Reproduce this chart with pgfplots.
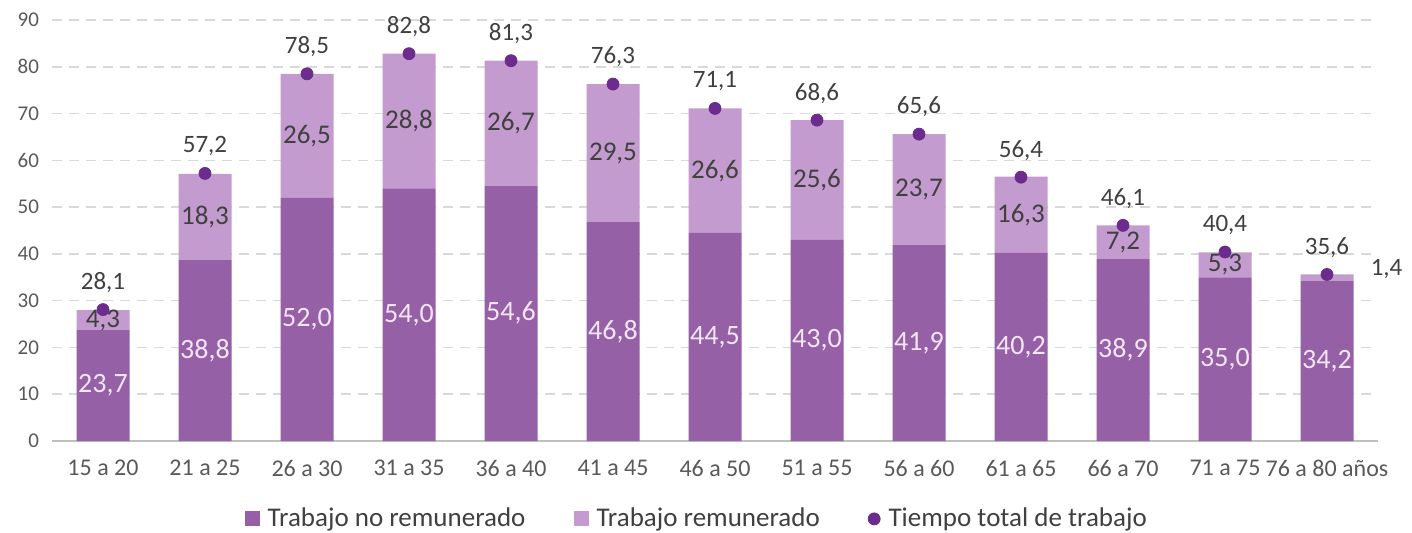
\documentclass[border=0pt]{standalone}
\usepackage{fontspec}
\setmainfont{Carlito}
\usepackage{pgfplots}
\usepackage{pgfplotstable}
\pgfplotsset{compat=1.18}
\definecolor{darkp}{HTML}{9560A5}
\definecolor{lightp}{HTML}{C49BCF}
\definecolor{dotp}{HTML}{6B2C8E}
\definecolor{lbltxt}{HTML}{404040}
\definecolor{ticktxt}{HTML}{595959}
\definecolor{wlbl}{HTML}{F5E6F7}

% edad, no remunerado (a), remunerado (b), total
\pgfplotstableread{
x a b tot
0 23.7 4.3 28.1
1 38.8 18.3 57.2
2 52.0 26.5 78.5
3 54.0 28.8 82.8
4 54.6 26.7 81.3
5 46.8 29.5 76.3
6 44.5 26.6 71.1
7 43.0 25.6 68.6
8 41.9 23.7 65.6
9 40.2 16.3 56.4
10 38.9 7.2 46.1
11 35.0 5.3 40.4
12 34.2 1.4 35.6
}\datatable

\pgfplotsset{
    base/.style={
        width=663pt, height=210.5pt,
        scale only axis,
        xmin=-0.5, xmax=12.5,
        ymin=0, ymax=90,
        clip=false,
        /pgf/number format/.cd, use comma, fixed, fixed zerofill, precision=1,
        assume math mode=true, /pgfplots/.cd,
    },
    lbl/.style={draw=none, mark=none, point meta=explicit, nodes near coords,
        every node near coord/.append style={anchor=center}},
}

\begin{document}
\begin{tikzpicture}
\useasboundingbox (-26pt,-45.5pt) rectangle (680pt,220.5pt);
\begin{axis}[
    base,
    ybar stacked,
    bar width=26.5pt,
    axis x line*=bottom,
    axis y line*=left,
    y axis line style={draw=none},
    x axis line style={draw=black!25, line width=0.8pt},
    major tick length=0pt,
    xtick=data,
    xticklabels={15 a 20, 21 a 25, 26 a 30, 31 a 35, 36 a 40, 41 a 45, 46 a 50, 51 a 55, 56 a 60, 61 a 65, 66 a 70, 71 a 75, 76 a 80 años},
    xticklabel style={font=\fontsize{12}{14}\selectfont, text=ticktxt, yshift=-6pt},
    ytick={0,10,...,90},
    yticklabel style={font=\fontsize{10.5}{12}\selectfont, text=ticktxt, xshift=-3pt,
        /pgf/number format/.cd, fixed, precision=0, fixed zerofill=false},
    ymajorgrids=true,
    grid style={draw=black!15, dash pattern=on 5pt off 3.5pt, line width=0.8pt},
    legend columns=3,
    legend style={at={(0.487,-0.185)}, anchor=center, draw=none,
        font=\fontsize{13.5}{15}\selectfont, text=lbltxt,
        /tikz/every even column/.append style={column sep=22pt},
        /tikz/every odd column/.append style={column sep=2pt}},
    legend image code/.code={\fill[#1] (0pt,-3.75pt) rectangle (7.5pt,3.75pt);},
]
\addplot[fill=darkp, draw=none] table[x=x, y=a] {\datatable};
\addlegendentry{Trabajo no remunerado}
\addplot[fill=lightp, draw=none] table[x=x, y=b] {\datatable};
\addlegendentry{Trabajo remunerado}
\addlegendimage{legend image code/.code={\fill[dotp] (3.75pt,0pt) circle (3pt);}}
\addlegendentry{Tiempo total de trabajo}
\end{axis}
\begin{axis}[
    base,
    hide axis,
]
% etiquetas del trabajo no remunerado (centro del tramo)
\addplot[lbl, every node near coord/.append style={text=wlbl, font=\fontsize{14}{16}\selectfont}]
    table[x=x, y expr=\thisrow{a}/2, meta=a] {\datatable};
% etiquetas del trabajo remunerado (centro del tramo)
\addplot[lbl, skip coords between index={12}{13},
    every node near coord/.append style={text=lbltxt, font=\fontsize{13.5}{15}\selectfont}]
    table[x=x, y expr=\thisrow{a}+\thisrow{b}/2, meta=b] {\datatable};
% ultimo tramo: etiqueta a la derecha de la barra
\addplot[lbl, skip coords between index={0}{12},
    every node near coord/.append style={text=lbltxt, anchor=west, font=\fontsize{12.5}{14}\selectfont}]
    table[x expr=\thisrow{x}+0.36, y expr=\thisrow{tot}+1.2, meta=b] {\datatable};
% tiempo total
\addplot[only marks, mark=*, mark size=3pt, color=dotp,
    point meta=explicit,
    nodes near coords,
    every node near coord/.append style={anchor=center, text=lbltxt,
        font=\fontsize{12.5}{14}\selectfont, yshift=13.5pt},
] table[x=x, y=tot, meta=tot] {\datatable};
\end{axis}
\end{tikzpicture}
\end{document}
